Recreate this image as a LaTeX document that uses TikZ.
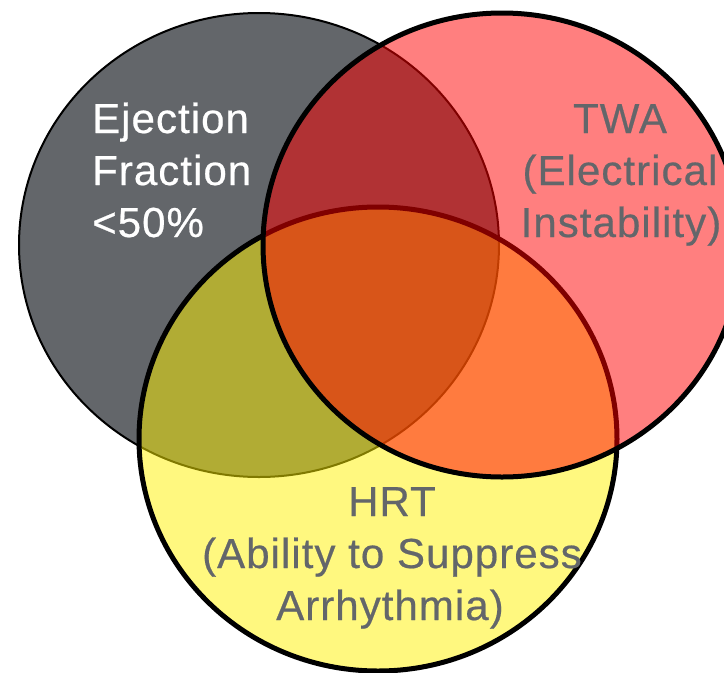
\documentclass[tikz,border=0pt]{standalone}
\usepackage{fontspec}
\setmainfont{Liberation Sans}[LetterSpace=2.5, FakeBold=0.5]
\definecolor{efgray}{RGB}{99,102,106}
\begin{document}
\begin{tikzpicture}[x=1pt,y=-1pt,
  lbl/.style={font=\fontsize{42}{52}\selectfont, inner sep=0pt},
  wlbl/.style={lbl, text=white, anchor=base west},
  glbl/.style={lbl, text=efgray, anchor=base}]
\useasboundingbox (0,0) rectangle (724,673);
\clip (0,0) rectangle (724,673);
% Ejection fraction circle
\path[fill=efgray, draw=black, line width=2pt] (259,245) ellipse [x radius=240, y radius=232];
% HRT circle
\path[fill=yellow, fill opacity=0.5, draw=black, draw opacity=1, line width=5pt] (378,439) ellipse [x radius=239, y radius=232];
% TWA circle
\path[fill=red, fill opacity=0.5, draw=black, draw opacity=1, line width=5pt] (502,245) ellipse [x radius=239, y radius=232];
% labels
\node[wlbl] (ef1) at (92,133) {Ejection};
\node[wlbl] (ef2) at (92,185) {Fraction};
\node[wlbl] (ef3) at (92,237) {<50\%};
\node[glbl] (tw1) at (620,133) {TWA};
\node[glbl] (tw2) at (620,185) {(Electrical};
\node[glbl] (tw3) at (621,237) {Instability)};
\node[glbl] (hr1) at (392,516) {HRT};
\node[glbl] (hr2) at (392,568) {(Ability to Suppress};
\node[glbl] (hr3) at (390,620) {Arrhythmia)};
\end{tikzpicture}
\end{document}
